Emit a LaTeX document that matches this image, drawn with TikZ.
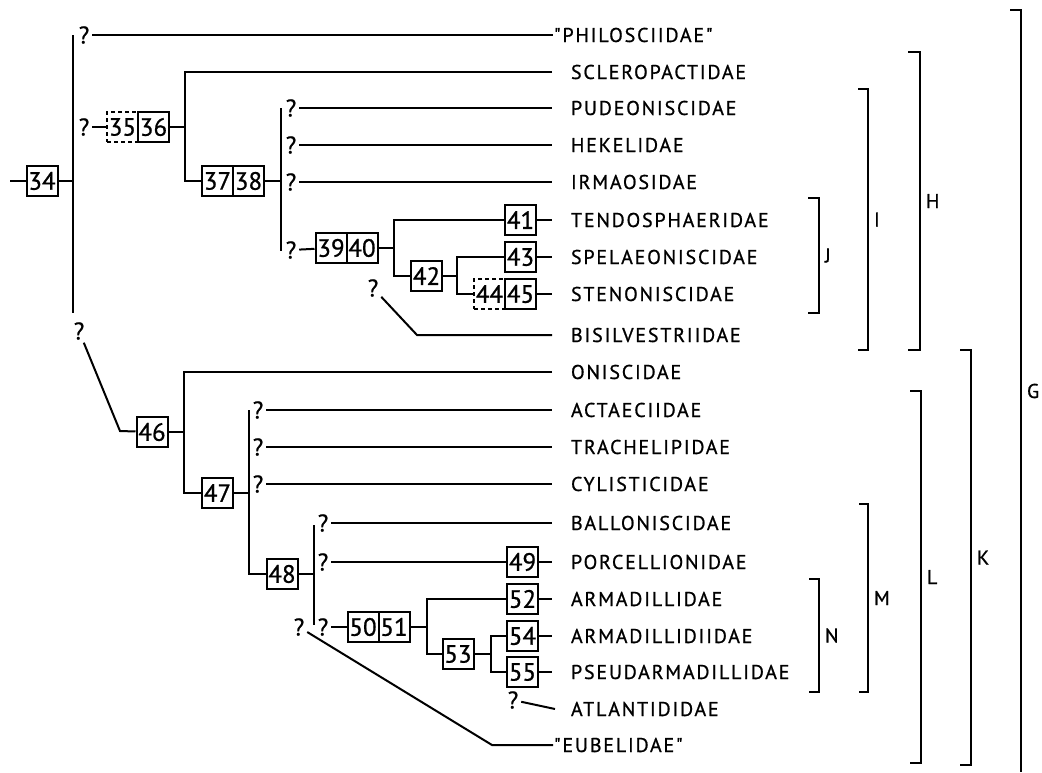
\documentclass[tikz,border=0pt]{standalone}
\usepackage{fontspec}
\setmainfont{PT Sans}[FakeBold=0.8]
\newfontfamily\taxfont{PT Sans}[LetterSpace=9, FakeBold=0.8]
\usetikzlibrary{positioning}

\begin{document}
\begin{tikzpicture}[x=1pt, y=-1pt, line width=2pt,
    apo/.style={rectangle, draw=black, line width=2pt, minimum width=31pt, minimum height=30pt,
      inner sep=0pt, font=\fontsize{25}{25}\selectfont},
    apod/.style={apo, dash pattern=on 4pt off 3pt},
    taxon/.style={anchor=west, inner sep=0pt, font=\fontsize{20}{20}\selectfont\taxfont},
    unk/.style={inner sep=0pt, outer sep=3pt, font=\fontsize{24}{24}\selectfont},
    grp/.style={right=5pt, inner sep=0pt, font=\fontsize{20}{20}\selectfont}]
  \useasboundingbox (0,0) rectangle (1042,772);
  \foreach \nm/\y/\txt in {scl/72/SCLEROPACTIDAE, pud/108/PUDEONISCIDAE, hek/145/HEKELIDAE,
      irm/182/IRMAOSIDAE, ten/220/TENDOSPHAERIDAE, spe/257/SPELAEONISCIDAE, ste/294/STENONISCIDAE,
      bis/335/BISILVESTRIIDAE, oni/372/ONISCIDAE, act/410/ACTAECIIDAE, tra/447/TRACHELIPIDAE,
      cyl/484/CYLISTICIDAE, bal/523/BALLONISCIDAE, por/562/PORCELLIONIDAE, arm/599/ARMADILLIDAE,
      ard/636/ARMADILLIDIIDAE, psd/672/PSEUDARMADILLIDAE, atl/709/ATLANTIDIDAE}
    \node[taxon] (\nm) at (570,\y) {\txt};
  \node[taxon] (phi) at (553,35) {"PHILOSCIIDAE"};
  \node[taxon] (eub) at (553,745) {"EUBELIDAE"};
  \node[apo] (n34) at (42,181) {34};
  \node[apod] (n35) at (122.5,127) {35};
  \node[apo] (n36) at (153.5,127) {36};
  \node[apo] (n37) at (217.5,181) {37};
  \node[apo] (n38) at (248.5,181) {38};
  \node[apo] (n39) at (331,248) {39};
  \node[apo] (n40) at (362,248) {40};
  \node[apo] (n41) at (520.5,220) {41};
  \node[apo] (n42) at (426.5,276) {42};
  \node[apo] (n43) at (520.5,257) {43};
  \node[apod] (n44) at (489.5,294) {44};
  \node[apo] (n45) at (520.5,294) {45};
  \node[apo] (n46) at (152,432) {46};
  \node[apo] (n47) at (217.5,493) {47};
  \node[apo] (n48) at (282,574) {48};
  \node[apo] (n49) at (522.5,562) {49};
  \node[apo] (n50) at (363,627) {50};
  \node[apo] (n51) at (394,627) {51};
  \node[apo] (n52) at (522.5,599) {52};
  \node[apo] (n53) at (458,654) {53};
  \node[apo] (n54) at (522.5,636) {54};
  \node[apo] (n55) at (522.5,672) {55};
  \foreach \q/\x/\y in {q1/84/35, q2/84/127, q3/291/108, q4/291/145, q5/291/182, q6/291/250,
      q7/373/288, q8/79/331, q9/258/410, q10/258/447, q11/258/484, q12/323/523, q13/323/562,
      q14/323/627, q15/299/627, q16/513/700}
    \node[unk] (\q) at (\x,\y) {?};
  \coordinate (r0) at (10,181);
  \coordinate (v34t) at (73,35);
  \coordinate (v34b) at (73,313);
  \coordinate (b34) at (73,181);
  \coordinate (b36) at (185,127);
  \coordinate (b38) at (281,181);
  \coordinate (v38t) at (281,108);
  \coordinate (v38b) at (281,251);
  \coordinate (b40) at (394,248);
  \coordinate (b42) at (457,276);
  \coordinate (k7) at (417,335);
  \coordinate (k8) at (120,431);
  \coordinate (b46) at (184,432);
  \coordinate (b47) at (249,493);
  \coordinate (v47t) at (249,410);
  \coordinate (b48) at (314,574);
  \coordinate (v48t) at (314,525);
  \coordinate (v48b) at (314,625);
  \coordinate (b51) at (427,627);
  \coordinate (b53) at (491,654);
  \coordinate (k15) at (492,745);
  \draw (r0) -- (n34);
  \draw (n34) -- (b34);
  \draw (v34t) -- (v34b);
  \draw (q1) -- (phi);
  \draw (q2) -- (n35);
  \draw (n36) -- (b36);
  \draw ([xshift=-18pt]scl.west) -| (b36) |- (n37);
  \draw (n38) -- (b38);
  \draw (v38t) -- (v38b);
  \foreach \q/\t in {q3/pud, q4/hek, q5/irm}{\draw (\q) -- ([xshift=-18pt]\t.west);}
  \draw (q6) -- (n39);
  \draw (n40) -- (b40);
  \draw (n41) -| (b40) |- (n42);
  \draw (n42) -- (b42);
  \draw (n43) -| (b42) |- (n44);
  \draw (q7) -- (k7) -- ([xshift=-18pt]bis.west);
  \draw (q8) -- (k8) -- (n46);
  \draw (n46) -- (b46);
  \draw ([xshift=-18pt]oni.west) -| (b46) |- (n47);
  \draw (n47) -- (b47);
  \draw (v47t) |- (n48);
  \foreach \q/\t in {q9/act, q10/tra, q11/cyl, q12/bal}{\draw (\q) -- ([xshift=-18pt]\t.west);}
  \draw (n48) -- (b48);
  \draw (v48t) -- (v48b);
  \draw (q13) -- (n49);
  \draw (q14) -- (n50);
  \draw (n51) -- (b51);
  \draw (n52) -| (b51) |- (n53);
  \draw (n53) -- (b53);
  \draw (n54) -| (b53) |- (n55);
  \foreach \b/\t in {n41/ten, n43/spe, n45/ste, n49/por, n52/arm, n54/ard, n55/psd}
    {\draw (\b) -- ([xshift=-18pt]\t.west);}
  \draw (q16) -- ([xshift=-15pt]atl.west);
  \draw (q15) -- (k15) -- (eub);
  \draw (808,198) -- (819,198) -- node[grp] {J} (819,313) -- (808,313);
  \draw (858,89) -- (868,89) -- node[grp] {I} (868,350) -- (858,350);
  \draw (908,52) -- (920,52) -- node[grp] {H} (920,350) -- (908,350);
  \draw (1010,10) -- (1021,10) -- node[grp] {G} (1021,772);
  \draw (960,350) -- (971,350) -- node[grp] {K} (971,765) -- (960,765);
  \draw (910,391) -- (921,391) -- node[grp] {L} (921,763) -- (910,763);
  \draw (859,504) -- (868,504) -- node[grp] {M} (868,692) -- (859,692);
  \draw (809,579) -- (819,579) -- node[grp] {N} (819,692) -- (809,692);
\end{tikzpicture}
\end{document}
